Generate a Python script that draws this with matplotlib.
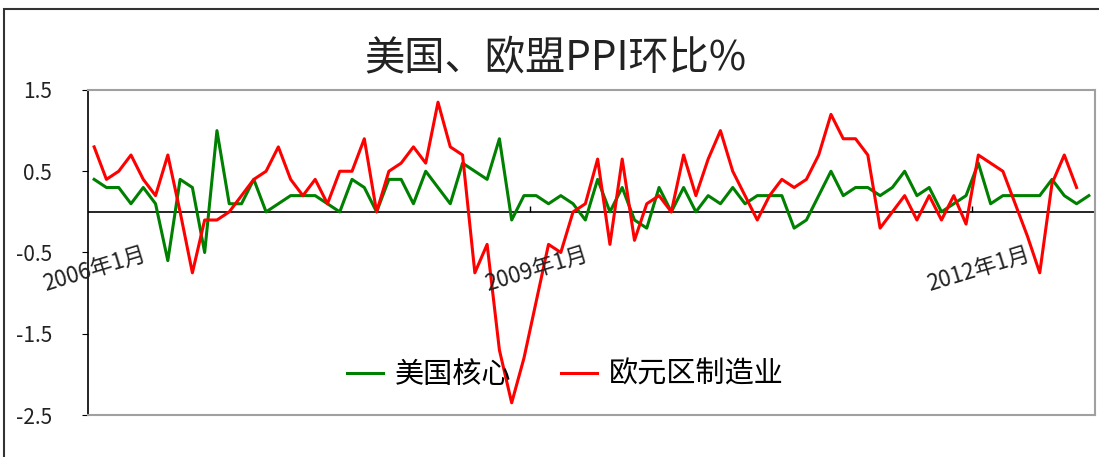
import matplotlib.pyplot as plt
import matplotlib.patches as patches
import numpy as np

plt.rcParams['font.family'] = ['Noto Sans CJK SC', 'DejaVu Sans']

# monthly, 2006-01 ..
us_core = [0.4, 0.3, 0.3, 0.1, 0.3, 0.1, -0.6, 0.4, 0.3, -0.5,
           1.0, 0.1, 0.1, 0.4, 0.0, 0.1, 0.2, 0.2, 0.2, 0.1,
           0.0, 0.4, 0.3, 0.0, 0.4, 0.4, 0.1, 0.5, 0.3, 0.1,
           0.6, 0.5, 0.4, 0.9, -0.1, 0.2, 0.2, 0.1, 0.2, 0.1,
           -0.1, 0.4, 0.0, 0.3, -0.1, -0.2, 0.3, 0.0, 0.3, 0.0,
           0.2, 0.1, 0.3, 0.1, 0.2, 0.2, 0.2, -0.2, -0.1, 0.2,
           0.5, 0.2, 0.3, 0.3, 0.2, 0.3, 0.5, 0.2, 0.3, 0.0,
           0.1, 0.2, 0.6, 0.1, 0.2, 0.2, 0.2, 0.2, 0.4, 0.2,
           0.1, 0.2]
ez_manuf = [0.8, 0.4, 0.5, 0.7, 0.4, 0.2, 0.7, 0.0, -0.75, -0.1,
            -0.1, 0.0, 0.2, 0.4, 0.5, 0.8, 0.4, 0.2, 0.4, 0.1,
            0.5, 0.5, 0.9, 0.0, 0.5, 0.6, 0.8, 0.6, 1.35, 0.8,
            0.7, -0.75, -0.4, -1.7, -2.35, -1.8, -1.1, -0.4, -0.5, 0.0,
            0.1, 0.65, -0.4, 0.65, -0.35, 0.1, 0.2, 0.0, 0.7, 0.2,
            0.65, 1.0, 0.5, 0.2, -0.1, 0.2, 0.4, 0.3, 0.4, 0.7,
            1.2, 0.9, 0.9, 0.7, -0.2, 0.0, 0.2, -0.1, 0.2, -0.1,
            0.2, -0.15, 0.7, 0.6, 0.5, 0.1, -0.3, -0.75, 0.35, 0.7,
            0.3]
label_idx = [0, 36, 72]
x_labels = ['2006年1月', '2009年1月', '2012年1月']
y_ticks = [1.5, 0.5, -0.5, -1.5, -2.5]

fig = plt.figure(figsize=(10.99, 4.57), dpi=100)
ax = fig.add_axes([88/1099, 42/457, 1007/1099, 325/457])

x1 = np.arange(len(us_core))
x2 = np.arange(len(ez_manuf))
ax.plot(x1, us_core, color='#008000', lw=2.2, label='美国核心')
ax.plot(x2, ez_manuf, color='#ff0000', lw=2.2, label='欧元区制造业')

ax.set_xlim(-0.5, len(us_core) - 0.5)
ax.set_ylim(-2.5, 1.5)
ax.axhline(0, color='black', lw=1.2, zorder=1)

# category axis sits at zero
ax.set_xticks([])
tick_pos = [i - 0.5 for i in label_idx[1:]]
ax.vlines(tick_pos, 0, 0.07, color='black', lw=1)
for i, lab in zip(label_idx, x_labels):
    ax.text(i, -0.7, lab, rotation=17, ha='center', va='center',
            fontsize=16, color='#222222')

ax.set_yticks(y_ticks)
ax.set_yticklabels([str(v) for v in y_ticks], fontsize=15, color='#222222')
ax.tick_params(axis='y', direction='out', length=4, pad=22, color='black')

for s in ['top', 'right', 'bottom']:
    ax.spines[s].set_color('#a0a0a0')
    ax.spines[s].set_linewidth(1.5)
ax.spines['left'].set_color('black')
ax.spines['left'].set_linewidth(1.2)

ax.legend(loc='center', bbox_to_anchor=(0.474, 0.123), ncol=2, frameon=False,
          fontsize=21, handlelength=1.25, handletextpad=0.4, columnspacing=1.7)

fig.text(0.505, 1 - 59/457, '美国、欧盟PPI环比%', fontsize=29, ha='center',
         va='center', color='#222222')

# outer chart frame
fig.patches.append(patches.Rectangle((4/1099, -0.1), 1.2, 1 - 9/457 + 0.1,
                                     transform=fig.transFigure, fill=False,
                                     edgecolor='#333333', lw=1.5))

fig.savefig('out.png', dpi=100)
